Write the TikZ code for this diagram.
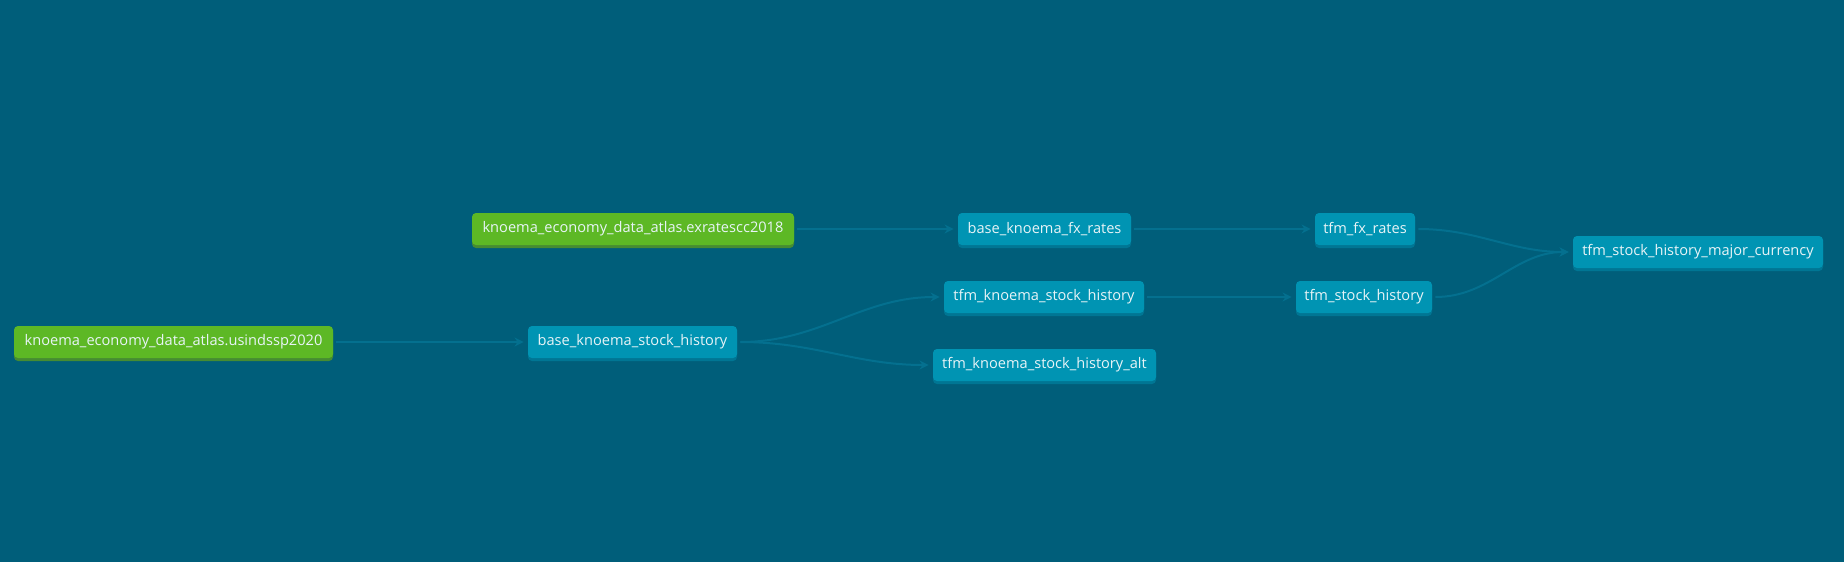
\documentclass[tikz,border=0pt]{standalone}
\usepackage{fontspec}
\setmainfont{Open Sans}
\definecolor{dagback}{RGB}{0, 94, 122}
\definecolor{srcgreen}{RGB}{93, 184, 37}
\definecolor{srcshade}{RGB}{70, 140, 50}
\definecolor{modblue}{RGB}{0, 148, 179}
\definecolor{modshade}{RGB}{0, 118, 148}
\definecolor{edgeblue}{RGB}{4, 112, 143}
\definecolor{labelwhite}{RGB}{232, 244, 247}
\usetikzlibrary{arrows.meta, positioning, shadows}

\begin{document}
\begin{tikzpicture}[x=0.5pt, y=-0.5pt,
    dagnode/.style={rounded corners=2pt, minimum height=16pt, inner xsep=3pt,
      text=labelwhite, font=\fontsize{7.3}{9}\selectfont},
    source/.style={dagnode, fill=srcgreen,
      general shadow={fill=srcshade, shadow yshift=-1.5pt}},
    model/.style={dagnode, fill=modblue,
      general shadow={fill=modshade, shadow yshift=-1.5pt}},
    dep/.style={edgeblue, line width=1pt, shorten <=1.5pt, shorten >=2pt,
      -{Stealth[length=4.5pt, width=4.5pt]}}]
  \fill[dagback] (0, 0) rectangle (1844, 562);

  % sources
  \node[source, minimum width=159.5pt] (usind) at (173.5, 342) {knoema\_economy\_data\_atlas.usindssp2020};
  \node[source, minimum width=161pt] (exrates) at (633, 229) {knoema\_economy\_data\_atlas.exratescc2018};

  % models
  \node[model, minimum width=104.5pt] (basestock) at (632.5, 342) {base\_knoema\_stock\_history};
  \node[model, minimum width=86.5pt] (basefx) at (1044.5, 229) {base\_knoema\_fx\_rates};
  \node[model, minimum width=100pt] (tfmknoema) at (1044, 297) {tfm\_knoema\_stock\_history};
  \node[model, minimum width=111.5pt] (tfmalt) at (1044.5, 365) {tfm\_knoema\_stock\_history\_alt};
  \node[model, minimum width=50pt] (tfmfx) at (1365, 229) {tfm\_fx\_rates};
  \node[model, minimum width=68pt] (tfmstock) at (1364, 297) {tfm\_stock\_history};
  \node[model, minimum width=125pt] (major) at (1698, 252) {tfm\_stock\_history\_major\_currency};

  % lineage
  \draw[dep] (usind.east) -- (basestock.west);
  \draw[dep] (exrates.east) -- (basefx.west);
  \draw[dep] (basefx.east) -- (tfmfx.west);
  \draw[dep] (basestock.east) to[out=0, in=180] (tfmknoema.west);
  \draw[dep] (basestock.east) to[out=0, in=180] (tfmalt.west);
  \draw[dep] (tfmknoema.east) -- (tfmstock.west);
  \draw[dep] (tfmfx.east) to[out=0, in=180] (major.west);
  \draw[dep] (tfmstock.east) to[out=0, in=180] (major.west);
\end{tikzpicture}
\end{document}
